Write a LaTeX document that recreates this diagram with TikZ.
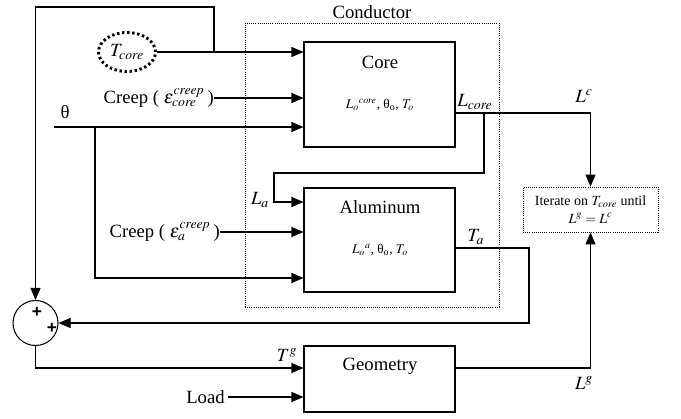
\documentclass[tikz,border=0pt]{standalone}
\usepackage{mathptmx}
\usepackage{fontspec}
\setmainfont{Liberation Serif}
\newfontfamily\plusfont{Liberation Sans}
\usetikzlibrary{
  arrows.meta,
  positioning,
  shapes.geometric
}
\tikzset{
  blockbox/.style={draw,line width=0.8pt,minimum width=113.25pt,inner sep=0pt},
  dotbox/.style={draw,densely dotted,line width=0.6pt,inner sep=0pt},
  arw/.style={-{Triangle[length=9pt,width=7.5pt]},line width=0.8pt},
  lbl/.style={font=\fontsize{14}{16}\selectfont,inner sep=0pt},
  smalllbl/.style={font=\fontsize{10}{12}\selectfont,inner sep=0pt},
  plus/.style={font=\plusfont\bfseries\fontsize{13}{13}\selectfont,inner sep=0pt}
}

\begin{document}
\begin{tikzpicture}[x=0.75pt,y=-0.75pt]
\useasboundingbox (0,0) rectangle (681,418);

\node[blockbox,minimum height=78.75pt] (core) at (379.5,94.5) {};
\node[blockbox,minimum height=78pt] (alu) at (379.5,240) {};
\node[blockbox,minimum height=49.5pt] (geo) at (379.5,379) {};
\node[dotbox,minimum width=190.5pt,minimum height=213pt] (cond) at (372,165) {};
\node[dotbox,minimum width=101.25pt,minimum height=33.75pt,align=center,
  font=\fontsize{10.5}{13}\selectfont] (iter) at (590.5,209.5)
  {Iterate on $T_{\mathit{core}}$ until\\$L^g = L^c$};
\node[circle,draw,line width=0.8pt,minimum size=33.75pt,inner sep=0pt] (sum) at (35.5,323) {};
\node[plus] (pa) at (37,312) {+};
\node[plus] (pb) at (52,328) {+};
\node[ellipse,draw,line width=2.2pt,dash pattern=on 1.8pt off 2pt,
  minimum width=42.75pt,minimum height=29.25pt,inner sep=0pt,
  font=\fontsize{14}{16}\selectfont] (tc) at (127,52) {$T_{\mathit{core}}$};

\node[lbl] (cndl) at (372,12) {Conductor};
\node[lbl] (coret) at (380,62) {Core};
\node[smalllbl] (corep) at (380,105) {$L_o{}^{\mathit{core}}$, θ\textsubscript{o}, $T_o$};
\node[lbl] (alut) at (380,207) {Aluminum};
\node[smalllbl] (alup) at (380,250) {$L_o{}^{a}$, θ\textsubscript{o}, $T_o$};
\node[lbl] (geot) at (380,366) {Geometry};

\node[lbl,anchor=east] (creepc) at (214,98) {Creep ( $\varepsilon^{\mathit{creep}}_{\mathit{core}}$\,)};
\node[lbl,anchor=east] (creepa) at (220,232) {Creep ( $\varepsilon^{\mathit{creep}}_{a}$\,)};
\node[lbl,anchor=east] (load) at (228,397) {Load\,};
\node[lbl] (thl) at (65,112) {θ};
\node[lbl] (lcl) at (475,102) {$L_{\mathit{core}}$};
\node[lbl] (lal) at (260,200) {$L_a$};
\node[lbl] (tal) at (476,237) {$T_a$};
\node[lbl] (lcu) at (584,96) {$L^c$};
\node[lbl] (tgl) at (287,355) {$T^g$};
\node[lbl] (lgl) at (584,383) {$L^g$};

\coordinate (fbk) at (214,52);
\coordinate (thin) at (54,127);
\coordinate (thsplit) at (95,127);
\coordinate (lsplit) at (484,113);

\draw[arw] (tc) -- (core.west |- tc);
\draw[arw] (fbk) |- (sum.north |- 0,7) -- (sum.north);
\draw[arw] (creepc) -- (core.west |- creepc);
\draw[arw] (thin) -- (core.west |- thin);
\draw[arw] (thsplit) |- (alu.west |- 0,278);
\draw[arw] (core.east |- 0,113) -| (iter.north);
\draw[arw] (lsplit) |- (274,173) |- (alu.west |- 0,202);
\draw[arw] (creepa) -- (alu.west |- creepa);
\draw[arw] (alu.east |- 0,248) -- (529,248) |- (sum.east);
\draw[arw] (sum.south) |- (geo.west |- 0,368);
\draw[arw] (load) -- (geo.west |- load);
\draw[arw] (geo.east |- 0,368) -| (iter.south);
\end{tikzpicture}
\end{document}
